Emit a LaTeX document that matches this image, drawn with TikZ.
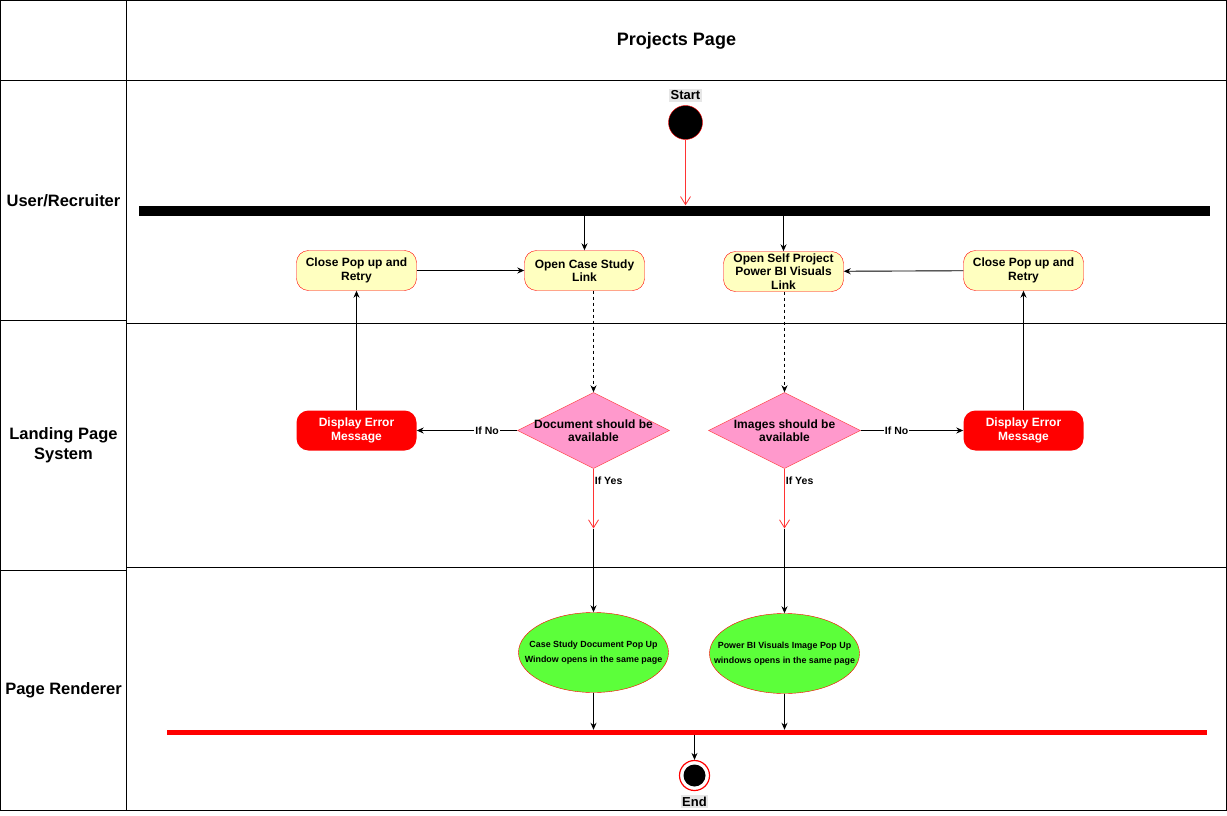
\documentclass[tikz,border=0pt]{standalone}
\usepackage{fontspec}
\setmainfont{Liberation Sans}
\usetikzlibrary{
    shapes.geometric,
    arrows.meta,
    positioning,
    calc
}
\definecolor{notepink}{RGB}{255, 153, 204}
\definecolor{actionyellow}{RGB}{255, 255, 192}
\definecolor{popgreen}{RGB}{92, 255, 58}
\definecolor{labelgray}{RGB}{230, 230, 230}
\newcommand{\boxfont}{\fontsize{12}{13.5}\selectfont\bfseries}
\newcommand{\popfont}{\fontsize{8.9}{15.5}\selectfont\bfseries}

\begin{document}
\begin{tikzpicture}[
        x=1pt, y=-1pt,
        lane/.style={draw, line width=1pt},
        lanetitle/.style={align=center, font=\fontsize{16.5}{20}\selectfont\bfseries},
        action/.style={draw=red, fill=actionyellow, rounded corners=12pt, minimum width=120pt, minimum height=40pt, align=center, inner sep=1pt, font=\boxfont},
        errbox/.style={fill=red, text=white, rounded corners=12pt, minimum width=120pt, minimum height=40pt, align=center, font=\boxfont},
        decision/.style={diamond, draw=red!75, fill=notepink, minimum width=152pt, minimum height=76pt, inner sep=0pt},
        popup/.style={ellipse, draw=red, fill=popgreen, minimum width=150pt, minimum height=80pt, inner sep=0pt},
        tag/.style={fill=labelgray, inner sep=1.5pt, font=\fontsize{13}{15}\selectfont\bfseries},
        bar/.style={rectangle, inner sep=0pt},
        guard/.style={inner sep=1pt, font=\fontsize{10.5}{12}\selectfont\bfseries},
        arrow/.style={-{Stealth[length=7pt, width=6pt]}, line width=0.9pt},
        redarrow/.style={-{Straight Barb[length=8pt, width=10pt]}, draw=red!80, line width=0.8pt}
    ]
        \useasboundingbox (-0.5, -0.5) rectangle (1226.5, 815.5);

        % Swimlanes
        \draw[lane] (0, 0) rectangle (126, 80);
        \draw[lane] (126, 0) rectangle (1226, 80);
        \draw[lane] (0, 80) rectangle (126, 320);
        \draw[lane] (126, 80) rectangle (1226, 323);
        \draw[lane] (0, 320) rectangle (126, 570);
        \draw[lane] (126, 323) rectangle (1226, 567);
        \draw[lane] (0, 570) rectangle (126, 810);
        \draw[lane] (126, 567) rectangle (1226, 810);

        \node[font=\fontsize{18}{21}\selectfont\bfseries] (title) at (676, 40) {Projects Page};
        \node[lanetitle] (user) at (63, 200) {User/Recruiter};
        \node[lanetitle] (landing) at (63, 445) {Landing Page\\System};
        \node[lanetitle] (renderer) at (63, 690) {Page Renderer};

        % Start and fork
        \node[tag] (startlbl) at (685, 95) {Start};
        \node[circle, draw=red, fill=black, minimum size=34pt, inner sep=0pt] (start) at (685, 122) {};
        \node[bar, fill=black, minimum width=1071pt, minimum height=10pt] (fork) at (673.5, 210) {};

        % User actions
        \node[action] (closeL) at (356, 270) {Close Pop up and\\Retry};
        \node[action] (casel) at (584, 270) {Open Case Study\\Link};
        \node[action] (selfl) at (783, 271) {Open Self Project\\Power BI Visuals\\Link};
        \node[action] (closeR) at (1023, 270) {Close Pop up and\\Retry};

        % Checks
        \node[errbox] (errL) at (356, 430) {Display Error\\Message};
        \node[decision, label={[font=\boxfont, align=center]center:Document should be\\available}] (docq) at (593, 430) {};
        \node[decision, label={[font=\boxfont, align=center]center:Images should be\\available}] (imgq) at (784, 430) {};
        \node[errbox] (errR) at (1023, 430) {Display Error\\Message};

        \coordinate (docy) at (593, 528);
        \coordinate (imgy) at (784, 528);

        % Pop ups
        \node[popup, label={[font=\popfont, align=center]center:Case Study Document Pop Up\\Window opens in the same page}] (csdoc) at (593, 652) {};
        \node[popup, label={[font=\popfont, align=center]center:Power BI Visuals Image Pop Up\\windows opens in the same page}] (pbimg) at (784, 653) {};

        % Join and end
        \node[bar, fill=red, minimum width=1040pt, minimum height=5pt] (join) at (686, 732) {};
        \node[circle, draw=red, line width=1.2pt, fill=white, minimum size=30pt, inner sep=0pt] (endn) at (694, 775) {};
        \fill (endn.center) circle (11);
        \node[tag] (endlbl) at (694, 801) {End};

        % Arrows
        \draw[redarrow] (start) -- (start |- fork.north);

        \draw[arrow] (fork.south -| casel.north) -- (casel.north);
        \draw[arrow] (fork.south -| selfl.north) -- (selfl.north);

        \draw[arrow] (closeL) -- (casel);
        \draw[arrow] (closeR) -- (selfl);

        \draw[arrow, dashed] (casel.south -| docq.north) -- (docq.north);
        \draw[arrow, dashed] (selfl.south -| imgq.north) -- (imgq.north);

        \draw[arrow] (docq.west) -- node[guard, fill=white, pos=0.3] {If No} (errL.east);
        \draw[arrow] (imgq.east) -- node[guard, fill=white, pos=0.35] {If No} (errR.west);

        \draw[arrow] (errL) -- (closeL);
        \draw[arrow] (errR) -- (closeR);

        \draw[redarrow] (docq.south) -- node[guard, right, pos=0.2] {If Yes} (docy);
        \draw[redarrow] (imgq.south) -- node[guard, right, pos=0.2] {If Yes} (imgy);
        \draw[arrow] (docy) -- (csdoc.north);
        \draw[arrow] (imgy) -- (pbimg.north);

        \draw[arrow] (csdoc.south) -- (csdoc.south |- join.north);
        \draw[arrow] (pbimg.south) -- (pbimg.south |- join.north);

        \draw[arrow] (join.south -| endn.north) -- (endn.north);
    \end{tikzpicture}
\end{document}
